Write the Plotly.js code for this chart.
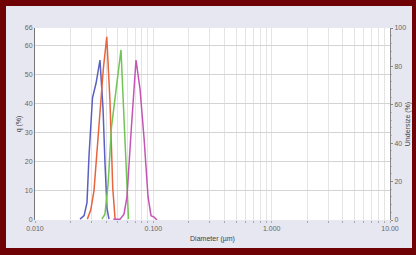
<!DOCTYPE html>
<html>
<head>
<meta charset="utf-8">
<script src="https://cdn.plot.ly/plotly-3.0.1.min.js"></script>
<style>
html,body{margin:0;padding:0;background:#6e0205;width:416px;height:255px;overflow:hidden;}
#chart{position:absolute;left:6px;top:6px;width:406px;height:242px;}
</style>
</head>
<body>
<div id="chart"></div>
<script>
// Series 1 (blue)
const blueD = [0.0240, 0.0260, 0.0275, 0.0286, 0.0306, 0.0328, 0.0354, 0.0376, 0.0390, 0.0406, 0.0422];
const blueQ = [0.3, 1.5, 6, 22, 42, 47, 55, 38, 20, 4, 0.3];
// Series 2 (orange)
const orangeD = [0.0277, 0.0296, 0.0315, 0.0332, 0.0355, 0.0378, 0.0404, 0.0430, 0.0454, 0.0475];
const orangeQ = [0.3, 3.5, 10, 22, 38, 52, 63, 41, 11, 0.3];
// Series 3 (green)
const greenD = [0.0368, 0.0390, 0.0414, 0.0443, 0.0475, 0.0503, 0.0533, 0.0565, 0.0594, 0.0617];
const greenQ = [0.3, 2, 12, 32, 42, 50, 58.5, 35, 12, 0.3];
// Series 4 (magenta)
const magD = [0.0459, 0.0523, 0.0565, 0.0599, 0.0648, 0.0714, 0.0772, 0.0835, 0.0902, 0.0956, 0.1014, 0.1075];
const magQ = [0.3, 0.3, 2, 8, 30, 55, 45, 28, 8, 1.5, 1, 0];

// Axis ticks
const xTickVals = [0.01,0.02,0.03,0.04,0.05,0.06,0.07,0.08,0.09,
                   0.1,0.2,0.3,0.4,0.5,0.6,0.7,0.8,0.9,
                   1,2,3,4,5,6,7,8,9,10];
const xTickText = ["0.010","","","","","","","","",
                   "0.100","","","","","","","","",
                   "1.000","","","","","","","","",
                   "10.00"];
const yTickVals = [0,10,20,30,40,50,60,66];
const yTickText = ["0","10","20","30","40","50","60","66"];
const y2TickVals = [0,20,40,60,80,100];

const font = {family:"Liberation Sans, Arial, sans-serif", size:7, color:"#666"};

function tr(x,y,c){
  return {x:x,y:y,type:"scatter",mode:"lines",line:{color:c,width:1.5},hoverinfo:"skip",showlegend:false};
}
const data = [
  tr(blueD, blueQ, "#5a5fc0"),
  tr(orangeD, orangeQ, "#e8643c"),
  tr(greenD, greenQ, "#72c454"),
  tr(magD, magQ, "#c455b4"),
  {x:[], y:[], type:"scatter", mode:"lines", yaxis:"y2", showlegend:false, hoverinfo:"skip"}
];

const layout = {
  width:406, height:242,
  margin:{l:29,r:22,t:22,b:28},
  paper_bgcolor:"#e7e7f1",
  plot_bgcolor:"#ffffff",
  font:font,
  showlegend:false,
  xaxis:{
    type:"log", range:[-2,1],
    tickmode:"array", tickvals:xTickVals, ticktext:xTickText,
    showgrid:true, gridcolor:"#e4e4e4", gridwidth:1,
    ticks:"outside", ticklen:2, tickcolor:"#aaa",
    showline:false, zeroline:false,
    tickfont:{size:7,color:"#666"},
    title:{text:"Diameter (µm)", font:{size:7,color:"#444"}, standoff:4}
  },
  yaxis:{
    range:[0,66],
    tickmode:"array", tickvals:yTickVals, ticktext:yTickText,
    showgrid:true, gridcolor:"#d4d4d4", gridwidth:1,
    showline:true, linecolor:"#777", linewidth:1,
    ticks:"", zeroline:false,
    tickfont:{size:7,color:"#666"},
    title:{text:"q (%)", font:{size:7,color:"#444"}, standoff:2}
  },
  yaxis2:{
    overlaying:"y", side:"right", range:[0,100], autorange:false,
    tickmode:"array", tickvals:y2TickVals,
    showgrid:false, showline:true, linecolor:"#888", linewidth:1,
    ticks:"outside", ticklen:2, tickcolor:"#888",
    minor:{dtick:4, ticks:"outside", ticklen:1, tickcolor:"#bbb"},
    zeroline:false,
    tickfont:{size:7,color:"#666"},
    title:{text:"Undersize (%)", font:{size:7,color:"#444"}, standoff:2}
  }
};

Plotly.newPlot("chart", data, layout, {staticPlot:true, displayModeBar:false});
</script>
</body>
</html>
